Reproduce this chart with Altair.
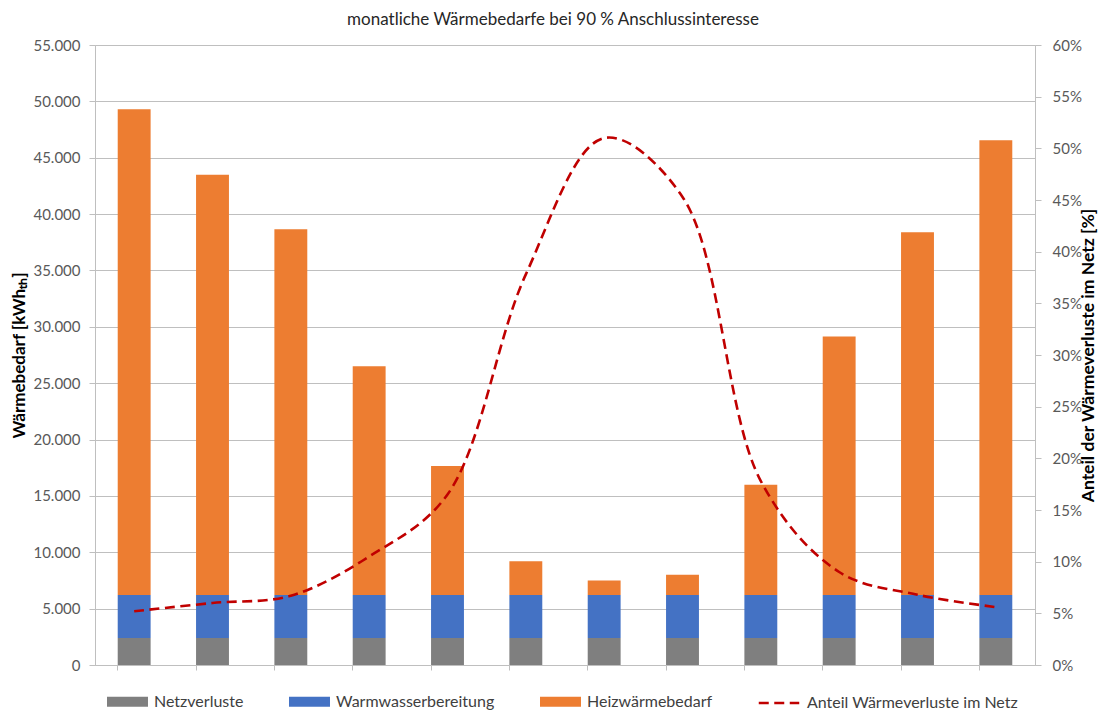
import altair as alt
import pandas as pd

months = ["Jan", "Feb", "Mär", "Apr", "Mai", "Jun", "Jul", "Aug", "Sep", "Okt", "Nov", "Dez"]
series = ["Netzverluste", "Warmwasserbereitung", "Heizwärmebedarf"]
colors = ["#7f7f7f", "#4472c4", "#ed7d31"]

netzverluste = [2400, 2400, 2400, 2400, 2400, 2400, 2400, 2400, 2400, 2400, 2400, 2400]
warmwasser = [3800, 3800, 3800, 3800, 3800, 3800, 3800, 3800, 3800, 3800, 3800, 3800]
heizwaerme = [43100, 37300, 32450, 20300, 11450, 3000, 1300, 1800, 9800, 22950, 32200, 40350]
anteil = [5.2, 6.0, 6.7, 10.5, 16.5, 37.8, 51.0, 45.3, 17.8, 9.0, 6.8, 5.6]
line_name = "Anteil Wärmeverluste im Netz"

rows = []
for i, m in enumerate(months):
    for k, (name, vals) in enumerate(zip(series, [netzverluste, warmwasser, heizwaerme])):
        rows.append({"month": m, "series": name, "value": vals[i], "order": k})
bars_df = pd.DataFrame(rows)
line_df = pd.DataFrame({"month": months, "anteil": anteil, "name": [line_name] * 12})

FONT = "Lato"
LBL = "#595959"
GRID = "#bfbfbf"
DASH = [10, 5.5]

x_enc = alt.X(
    "month:N", sort=months,
    scale=alt.Scale(paddingInner=0.58, paddingOuter=0.29),
    axis=alt.Axis(labels=False, title=None, bandPosition=0, tickSize=5,
                  tickColor=GRID, domainColor=GRID, grid=False),
)

bars = alt.Chart(bars_df).mark_bar().encode(
    x=x_enc,
    y=alt.Y(
        "value:Q", stack="zero",
        scale=alt.Scale(domain=[0, 55000], nice=False),
        axis=alt.Axis(
            values=list(range(0, 55001, 5000)),
            labelExpr="replace(format(datum.value, ',.0f'), regexp(',', 'g'), '.')",
            title="Wärmebedarf [kWhₜₕ]",
            titleFont=FONT, titleFontSize=17, titleFontWeight="bold", titleColor="#000000",
            titlePadding=4,
            labelFont=FONT, labelFontSize=15, labelColor=LBL, labelPadding=9,
            tickSize=6, tickColor=GRID, domainColor=GRID,
            grid=True, gridColor=GRID,
        ),
    ),
    color=alt.Color(
        "series:N",
        scale=alt.Scale(domain=series, range=colors),
        legend=alt.Legend(
            title=None, orient="none", direction="horizontal",
            legendX=22, legendY=646,
            symbolType="M-2,-0.5L2,-0.5L2,0.5L-2,0.5Z", symbolSize=420,
            symbolStrokeWidth=0, symbolOpacity=1,
            labelFont=FONT, labelFontSize=16, labelColor="#404040", labelOffset=16,
            columnPadding=45, padding=0, labelLimit=300,
        ),
    ),
    order=alt.Order("order:Q"),
)

line = alt.Chart(line_df).mark_line(
    color="#c00000", strokeWidth=2.6, interpolate="catmull-rom"
).encode(
    x=alt.X("month:N", sort=months),
    y=alt.Y(
        "anteil:Q",
        scale=alt.Scale(domain=[0, 60], nice=False),
        axis=alt.Axis(
            orient="right",
            values=list(range(0, 61, 5)),
            labelExpr="datum.value + '%'",
            title="Anteil der Wärmeverluste im Netz [%]",
            titleAngle=270,
            titleFont=FONT, titleFontSize=17.5, titleFontWeight="bold", titleColor="#000000",
            titlePadding=16,
            labelFont=FONT, labelFontSize=15, labelColor=LBL, labelPadding=11,
            tickSize=6, tickColor=GRID, domainColor=GRID, grid=False,
        ),
    ),
    strokeDash=alt.StrokeDash(
        "name:N",
        scale=alt.Scale(domain=[line_name], range=[DASH]),
        legend=alt.Legend(
            title=None, orient="none", direction="horizontal",
            legendX=662, legendY=636,
            symbolType="stroke", symbolSize=1640, symbolStrokeColor="#c00000",
            symbolStrokeWidth=2.6,
            labelFont=FONT, labelFontSize=16, labelColor="#404040", labelOffset=6,
            padding=0, labelLimit=400,
        ),
    ),
)

chart = alt.layer(bars, line).resolve_scale(
    y="independent", color="independent", strokeDash="independent"
).properties(
    width=940, height=620,
    autosize=alt.AutoSizeParams(type="none"),
    padding={"left": 87, "top": 37, "right": 64, "bottom": 48},
    title=alt.TitleParams(
        "monatliche Wärmebedarfe bei 90 % Anschlussinteresse",
        font=FONT, fontSize=17, fontWeight="normal", color="#262626",
        anchor="middle", dx=-12, offset=9,
    ),
).configure_view(stroke=None).configure(background="white")

chart.save("out.html", embed_options={"renderer": "svg", "actions": False})
